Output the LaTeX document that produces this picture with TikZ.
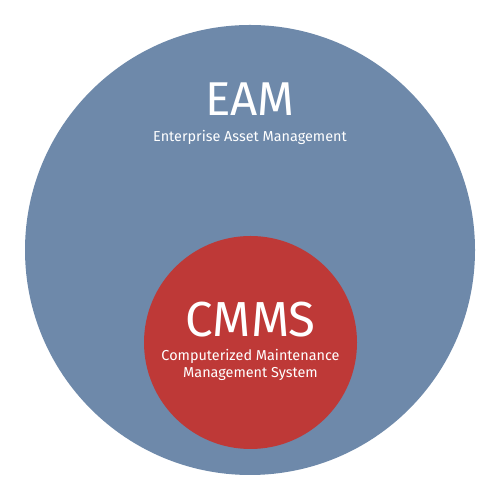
\documentclass[tikz,border=0pt]{standalone}
\usepackage{fontspec}
\setmainfont{Fira Sans}
\usetikzlibrary{positioning}
\definecolor{eamblue}{RGB}{110,137,170}
\definecolor{cmmsred}{RGB}{190,57,55}

\begin{document}
\begin{tikzpicture}[every node/.style={text=white, inner sep=0pt}, zone/.style={circle, draw=none}, title/.style={font=\fontsize{27}{31}\selectfont, anchor=base}, subtitle/.style={font=\fontsize{8.2}{9.8}\selectfont, align=center, anchor=base}]
\useasboundingbox[fill=white] (0,0) rectangle (10,10);
\node[zone, fill=eamblue, minimum size=9cm] (eam) at (5,5) {};
\node[zone, fill=cmmsred, minimum size=4.26cm] (cmms) at (5.01,3.15) {};
\node[title] (eamtitle) at (5,7.68) {EAM};
\node[subtitle] (eamsub) at (5,7.16) {Enterprise Asset Management};
\node[title, font=\fontsize{28}{32}\selectfont] (cmmstitle) at (5.01,3.26) {CMMS};
\node[subtitle, anchor=north] (cmmssub) at (5.01,3.02) {Computerized Maintenance\\Management System};
\end{tikzpicture}
\end{document}
